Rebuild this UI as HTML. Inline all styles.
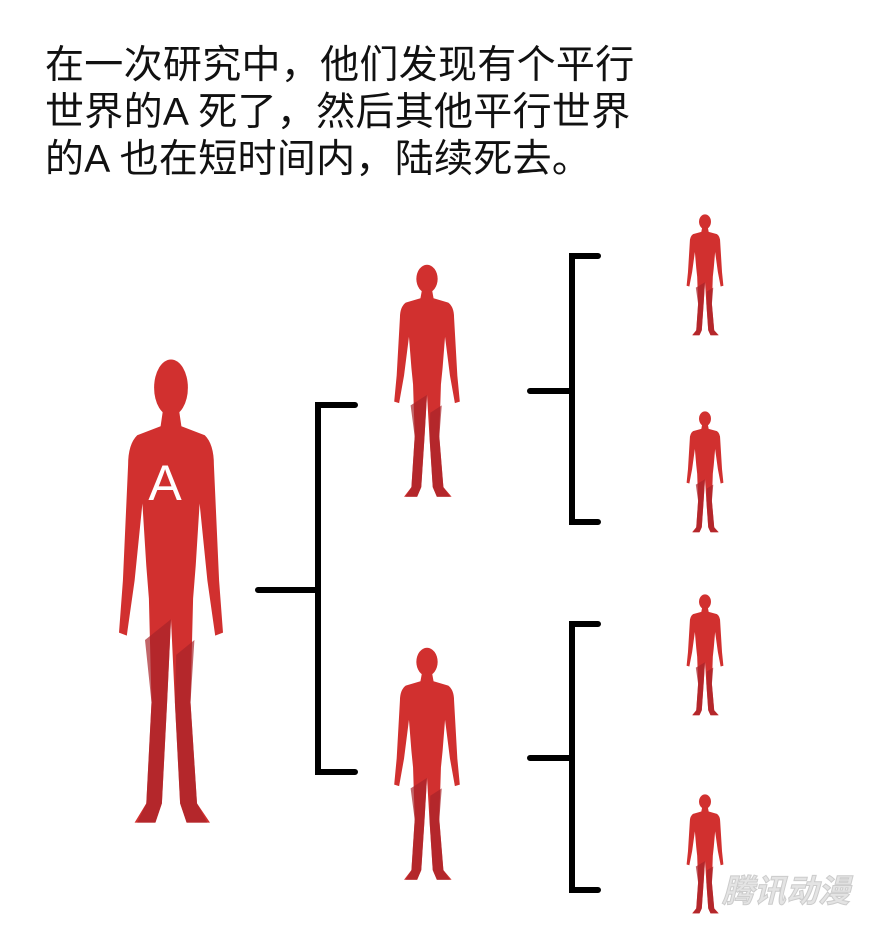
<!DOCTYPE html>
<html><head><meta charset="utf-8"><style>
body{margin:0;width:880px;height:929px;background:#fff;overflow:hidden;position:relative;font-family:"Liberation Sans","Noto Sans CJK SC",sans-serif}
.t{position:absolute;left:45px;top:42px;font-size:39px;letter-spacing:0.3px;line-height:47px;color:#111;white-space:nowrap}
svg{position:absolute;left:0;top:0}
.wm{position:absolute;left:722px;top:866px;font-size:32px;font-weight:bold;font-style:italic;color:#e4e4e4;font-family:"Noto Sans CJK SC",sans-serif;-webkit-text-stroke:1px #ccc}
</style></head><body>
<div class="t">在一次研究中，他们发现有个平行<br>世界的A 死了，然后其他平行世界<br>的A 也在短时间内，陆续死去。</div>
<svg width="880" height="929">
<defs>
<symbol id="f" viewBox="0 0 100 320" preserveAspectRatio="none">
<ellipse cx="50" cy="20" rx="13" ry="19" fill="#d1302f"/>
<path fill="#d1302f" d="M44,34 L56,34 L58,46 L76,52 Q83,58 83,72 L87,150 L90,185 L84,187 L78,150 L72,98 L69,140 L67,162 L65,232 L70,300 L80,313 L62,313 L57,300 L53,232 L50,176 L47,232 L43,300 L38,313 L22,313 L31,300 L35,232 L33,162 L31,140 L28,98 L22,150 L16,187 L10,185 L13,150 L17,72 Q17,58 24,52 L42,46 Z"/>
<path fill="#a8242a" opacity="0.7" d="M30,190 L50,176 L47,232 L43,300 L38,313 L24,313 L31,300 L35,232 Z M68,190 L65,232 L70,300 L78,313 L62,313 L57,300 L53,232 L54,200 Z"/>
</symbol>
</defs>
<use href="#f" x="106" y="358" width="130" height="475"/>
<text x="165" y="500" fill="#fff" font-size="50" font-family="Liberation Sans" text-anchor="middle">A</text>
<use href="#f" x="386" y="264" width="82" height="238"/>
<use href="#f" x="386" y="647" width="82" height="238"/>
<use href="#f" x="682" y="214" width="46" height="124"/>
<use href="#f" x="682" y="411" width="46" height="124"/>
<use href="#f" x="682" y="594" width="46" height="124"/>
<use href="#f" x="682" y="794" width="46" height="122"/>
<g stroke="#000" stroke-width="6" fill="none" stroke-linecap="round">
<path d="M258,590 H318 M355,405 H318 V772 H355"/>
<path d="M530,391 H572 M598,256 H572 V522 H598"/>
<path d="M530,758 H572 M598,624 H572 V890 H598"/>
</g>
</svg>
<div class="wm">腾讯动漫</div>
</body></html>
